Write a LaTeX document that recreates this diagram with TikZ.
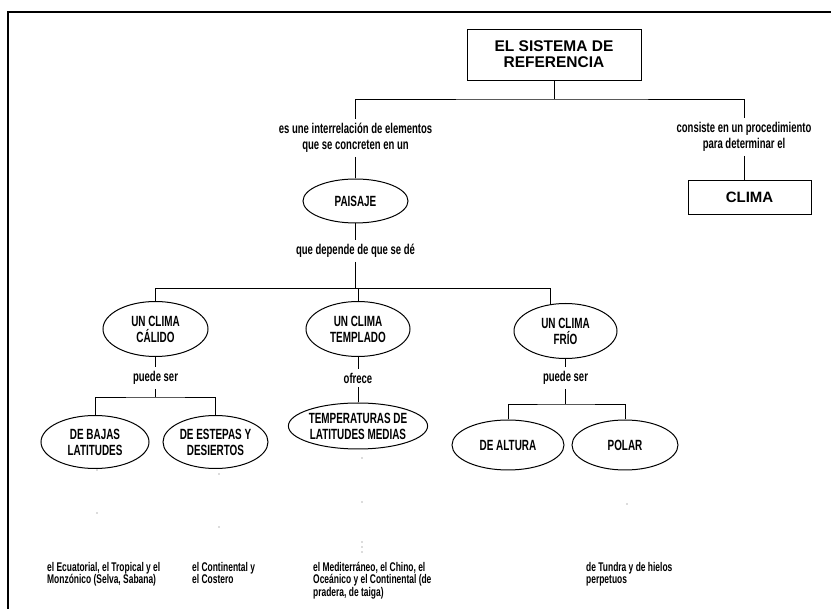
\documentclass[tikz,border=0pt]{standalone}
\usepackage{fontspec}
\setmainfont{Liberation Sans}
\newfontfamily\condfont[FakeStretch=0.67]{Liberation Sans}
\usepackage{tikz}
\usetikzlibrary{shapes.geometric}
\tikzstyle{titulo} = [rectangle, draw=black, line width=0.9pt, minimum width=174pt, minimum height=51pt, inner sep=0pt, align=center, font=\fontsize{15.5}{16}\selectfont\bfseries]
\tikzstyle{caja} = [rectangle, draw=black, line width=0.9pt, minimum width=123pt, minimum height=34pt, inner sep=0pt, font=\fontsize{15}{16}\selectfont\bfseries]
\tikzstyle{elipse} = [ellipse, draw=black, line width=1pt, inner sep=0pt, align=center, font=\condfont\bfseries\fontsize{14.8}{16}\selectfont]
\tikzstyle{enlace} = [align=center, inner sep=4pt, font=\condfont\bfseries\fontsize{14.2}{16}\selectfont]
\tikzstyle{nota} = [align=left, anchor=north west, inner sep=0pt, font=\condfont\bfseries\fontsize{12.6}{12.5}\selectfont]
\tikzstyle{linea} = [line width=0.8pt]
\tikzstyle{marco} = [line width=2.4pt]
\tikzstyle{mota} = [fill=black!60]

\begin{document}
\begin{tikzpicture}[x=1pt, y=-1pt]

		\useasboundingbox (0,0) rectangle (831,609);
		\draw [marco] (8,609) -- (8,12) -- (831,12);

		\node (sistema) [titulo] at (554,54.5) {EL SISTEMA DE\\REFERENCIA};

		\node (lazo1) [enlace] at (355.5,138) {es une interrelación de elementos\\que se concreten en un};
		\node (lazo2) [enlace] at (744,137) {consiste en un procedimiento\\para determinar el};

		\node (paisaje) [elipse, minimum width=105pt, minimum height=44pt] at (355.5,201) {PAISAJE};
		\node (clima) [caja] at (749.5,197) {CLIMA};

		\node (lazo3) [enlace] at (355.5,251) {que depende de que se dé};

		\node (calido) [elipse, minimum width=105pt, minimum height=55pt] at (155.5,329) {UN CLIMA\\CÁLIDO};
		\node (templado) [elipse, minimum width=104pt, minimum height=55pt] at (358,329) {UN CLIMA\\TEMPLADO};
		\node (frio) [elipse, minimum width=103pt, minimum height=55pt] at (565.5,331) {UN CLIMA\\FRÍO};

		\node (puede1) [enlace] at (155.5,378) {puede ser};
		\node (ofrece) [enlace] at (358,378) {ofrece};
		\node (puede2) [enlace] at (565.5,378) {puede ser};

		\node (bajas) [elipse, minimum width=108pt, minimum height=53pt] at (95,442) {DE BAJAS\\LATITUDES};
		\node (estepas) [elipse, minimum width=105pt, minimum height=53pt] at (215.5,442) {DE ESTEPAS Y\\DESIERTOS};
		\node (temperaturas) [elipse, minimum width=120pt, minimum height=46pt] at (358,426) {TEMPERATURAS DE\\LATITUDES MEDIAS};
		\node (altura) [elipse, minimum width=112pt, minimum height=50pt] at (508,445) {DE ALTURA};
		\node (polar) [elipse, minimum width=106pt, minimum height=50pt] at (625,445) {POLAR};

		\node (nota1) [nota] at (47,562) {el Ecuatorial, el Tropical y el\\Monzónico (Selva, Sabana)};
		\node (nota2) [nota] at (192,562) {el Continental y\\el Costero};
		\node (nota3) [nota] at (313,562) {el Mediterráneo, el Chino, el\\Oceánico y el Continental (de\\pradera, de taiga)};
		\node (nota4) [nota] at (586,562) {de Tundra y de hielos\\perpetuos};

		\coordinate (bar1) at (554,99);
		\coordinate (bar2) at (155.5,288);
		\coordinate (bar3) at (155.5,397);
		\coordinate (bar4) at (565.5,404);

		\draw [linea] (sistema) -- (bar1);
		\draw [linea] (lazo1) |- (bar1) -| (lazo2);
		\draw [linea] (lazo1) -- (paisaje);
		\draw [linea] (lazo2) -- (lazo2 |- clima.north);

		\draw [linea] (paisaje) -- (lazo3);
		\draw [linea] (lazo3) -- (lazo3 |- bar2);
		\draw [linea] (calido) -- (bar2) -- (frio.120 |- bar2) -- (frio.120);
		\draw [linea] (templado) -- (templado |- bar2);

		\draw [linea] (calido) -- (puede1) -- (bar3);
		\draw [linea] (bajas) |- (bar3) -| (estepas);
		\draw [linea] (templado) -- (ofrece) -- (temperaturas);
		\draw [linea] (frio) -- (puede2) -- (bar4);
		\draw [linea] (altura) |- (bar4) -| (polar);

		\fill [mota] (97,470) circle (0.7);
		\fill [mota] (97,513) circle (0.7);
		\fill [mota] (219,474) circle (0.7);
		\fill [mota] (219,527) circle (0.7);
		\fill [mota] (362,458) circle (0.7);
		\fill [mota] (362,502) circle (0.7);
		\fill [mota] (362,542) circle (0.6);
		\fill [mota] (362,547) circle (0.6);
		\fill [mota] (362,552) circle (0.6);
		\fill [mota] (627,504) circle (0.7);

\end{tikzpicture}
\end{document}
